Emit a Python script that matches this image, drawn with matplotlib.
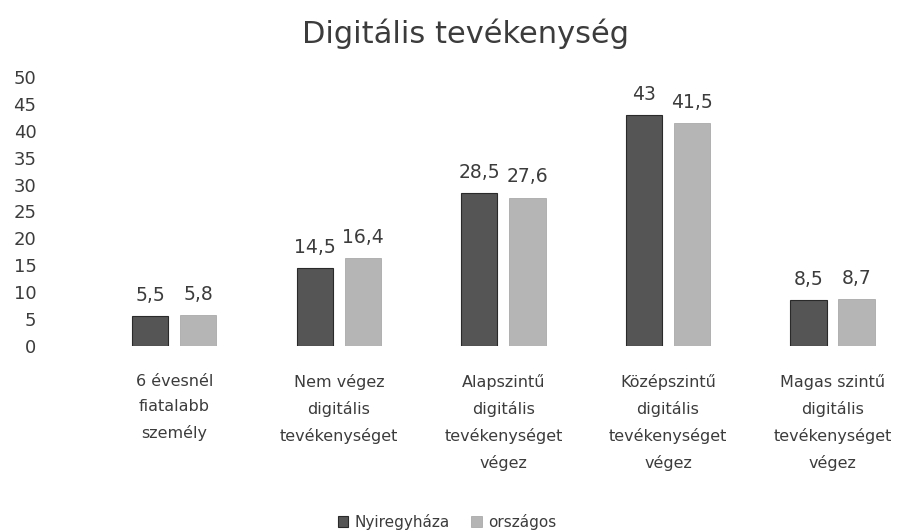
import numpy as np
import matplotlib.pyplot as plt

# Data
categories = ['6 évesnél\nfiatalabb\nszemély',
              'Nem végez\ndigitális\ntevékenységet',
              'Alapszintű\ndigitális\ntevékenységet\nvégez',
              'Középszintű\ndigitális\ntevékenységet\nvégez',
              'Magas szintű\ndigitális\ntevékenységet\nvégez']
nyiregyhaza = [5.5, 14.5, 28.5, 43, 8.5]
orszagos = [5.8, 16.4, 27.6, 41.5, 8.7]
series_names = ['Nyiregyháza', 'országos']

TEXT = '#3c3c3c'
plt.rcParams['font.family'] = ['DejaVu Sans']

fig = plt.figure(figsize=(9.12, 5.32), dpi=100)
ax = fig.add_axes([92 / 912, 1 - 346 / 532, 808 / 912, 269 / 532])

x = np.arange(len(categories))
w = 0.22
off = 0.146
b1 = ax.bar(x - off, nyiregyhaza, w, color='#555555', edgecolor='#2a2a2a', linewidth=0.8,
            label=series_names[0])
b2 = ax.bar(x + off, orszagos, w, color='#b5b5b5', edgecolor='#a0a0a0', linewidth=0.5,
            label=series_names[1])

for bars in (b1, b2):
    ax.bar_label(bars, labels=[f'{v:g}'.replace('.', ',') for v in bars.datavalues],
                 padding=8, fontsize=13.5, color=TEXT)

ax.set_xlim(-0.5, 4.41)
ax.set_ylim(0, 50)
ax.set_yticks(range(0, 51, 5))
ax.set_xticks(x)
ax.set_xticklabels(categories, fontsize=11.5, color=TEXT, linespacing=1.85, va='top')
ax.tick_params(axis='x', length=0, pad=20)
ax.tick_params(axis='y', length=0, pad=40, labelsize=13, labelcolor=TEXT)
for s in ax.spines.values():
    s.set_visible(False)

fig.suptitle('Digitális tevékenység', x=0.51, y=0.965, fontsize=22, color=TEXT)
fig.legend(loc='lower center', bbox_to_anchor=(0.49, -0.022), ncol=2, frameon=False,
           fontsize=11, handlelength=0.7, handleheight=0.7, handletextpad=0.4,
           columnspacing=1.4, labelcolor=TEXT)

fig.savefig('out.png', dpi=100)
